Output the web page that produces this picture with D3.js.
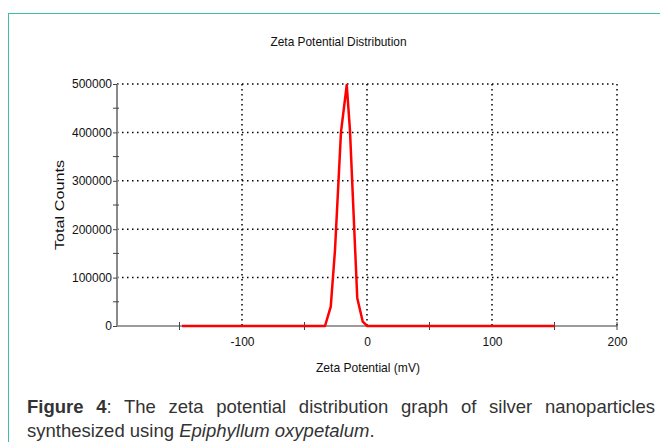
<!DOCTYPE html>
<html>
<head>
<meta charset="utf-8">
<script src="https://cdn.jsdelivr.net/npm/d3@7"></script>
<style>
  html, body { margin: 0; padding: 0; background: #fff; }
  body { width: 660px; height: 442px; overflow: hidden; position: relative; font-family: "Liberation Sans", Arial, sans-serif; }
  .frame { position: absolute; left: 8px; top: 13px; width: 700px; height: 500px; border-left: 1.5px solid #3cbfa6; border-top: 1.5px solid #3cbfa6; }
  .cap { position: absolute; left: 27px; width: 628px; font-size: 18.5px; color: #333; line-height: 24px; }
  .cap1 { top: 395px; text-align: justify; text-align-last: justify; }
  .cap2 { top: 419px; }
</style>
</head>
<body>
<div class="frame"></div>
<svg id="chart" width="660" height="442" style="position:absolute;left:0;top:0"></svg>
<div class="cap cap1"><b>Figure 4</b>: The zeta potential distribution graph of silver nanoparticles</div>
<div class="cap cap2">synthesized using <i>Epiphyllum oxypetalum</i>.</div>
<script>
// valeurs
const zeta = [-148, -33.6, -29, -25.6, -20.8, -16.2, -13.6, -7.8, -3.4, 0.2, 150];
const counts = [0, 0, 39900, 157000, 401000, 498000, 403000, 58000, 8900, 0, 0];
const xTicks = [-100, 0, 100, 200];
const xMinor = [-150, -50, 50, 150, 200];
const yTicks = [0, 100000, 200000, 300000, 400000, 500000];
const yMinor = [50000, 150000, 250000, 350000, 450000];

const svg = d3.select("#chart");
const x = d3.scaleLinear().domain([-200, 200]).range([117, 617]);
const y = d3.scaleLinear().domain([0, 500000]).range([326, 84]);

// grille pointillee
const dots = "1.5 3.5";
svg.append("g").selectAll("line").data(yTicks.slice(1)).enter().append("line")
  .attr("x1", x(-200)).attr("x2", x(200))
  .attr("y1", d => y(d)).attr("y2", d => y(d))
  .attr("stroke", "#000").attr("stroke-width", 1.5).attr("stroke-dasharray", dots);
svg.append("g").selectAll("line").data(xTicks).enter().append("line")
  .attr("x1", d => x(d)).attr("x2", d => x(d))
  .attr("y1", y(500000)).attr("y2", y(0))
  .attr("stroke", "#000").attr("stroke-width", 1.5).attr("stroke-dasharray", dots);

// axe x
svg.append("line").attr("x1", x(-200)).attr("x2", x(200)).attr("y1", y(0)).attr("y2", y(0))
  .attr("stroke", "#7a7a7a").attr("stroke-width", 1.5);
svg.append("g").selectAll("line").data(xMinor).enter().append("line")
  .attr("x1", d => x(d)).attr("x2", d => x(d)).attr("y1", y(0) - 4).attr("y2", y(0) + 4)
  .attr("stroke", "#444").attr("stroke-width", 1);
const xAxis = d3.axisBottom(x).tickValues(xTicks).tickSize(0).tickPadding(11)
  .tickFormat(d => String(d));
svg.append("g").attr("transform", `translate(0,${y(0)})`).call(xAxis)
  .call(g => g.select(".domain").remove())
  .selectAll("text").style("font-family", "Liberation Sans, Arial, sans-serif")
  .style("font-size", "12px").attr("fill", "#111");

// axe y
svg.append("line").attr("x1", x(-200)).attr("x2", x(-200)).attr("y1", y(500000)).attr("y2", y(0))
  .attr("stroke", "#8a8a8a").attr("stroke-width", 2);
svg.append("g").selectAll("line").data(yMinor).enter().append("line")
  .attr("x1", x(-200) - 4).attr("x2", x(-200) + 2).attr("y1", d => y(d)).attr("y2", d => y(d))
  .attr("stroke", "#444").attr("stroke-width", 1);
const yAxis = d3.axisLeft(y).tickValues(yTicks).tickSize(4).tickPadding(1).tickFormat(d3.format("d"));
svg.append("g").attr("transform", `translate(${x(-200)},0)`).call(yAxis)
  .call(g => g.select(".domain").remove())
  .call(g => g.selectAll("line").attr("stroke", "#444"))
  .selectAll("text").style("font-family", "Liberation Sans, Arial, sans-serif")
  .style("font-size", "12px").attr("fill", "#111");

// courbe
const line = d3.line().x((d, i) => x(zeta[i])).y(d => y(d));
svg.append("path").datum(counts).attr("d", line)
  .attr("fill", "none").attr("stroke", "#ff0000").attr("stroke-width", 2.5)
  .attr("stroke-linejoin", "round");

// titres
svg.append("text").attr("x", 338.5).attr("y", 46).attr("text-anchor", "middle")
  .attr("font-size", 13).attr("textLength", 136).attr("lengthAdjust", "spacingAndGlyphs")
  .attr("fill", "#111").text("Zeta Potential Distribution");
svg.append("text").attr("x", 368).attr("y", 372).attr("text-anchor", "middle")
  .attr("font-size", 13).attr("textLength", 104).attr("lengthAdjust", "spacingAndGlyphs")
  .attr("fill", "#111").text("Zeta Potential (mV)");
svg.append("text").attr("transform", "translate(64,205) rotate(-90)").attr("text-anchor", "middle")
  .attr("font-size", 13).attr("textLength", 90).attr("lengthAdjust", "spacingAndGlyphs")
  .attr("fill", "#111").text("Total Counts");
</script>
</body>
</html>
